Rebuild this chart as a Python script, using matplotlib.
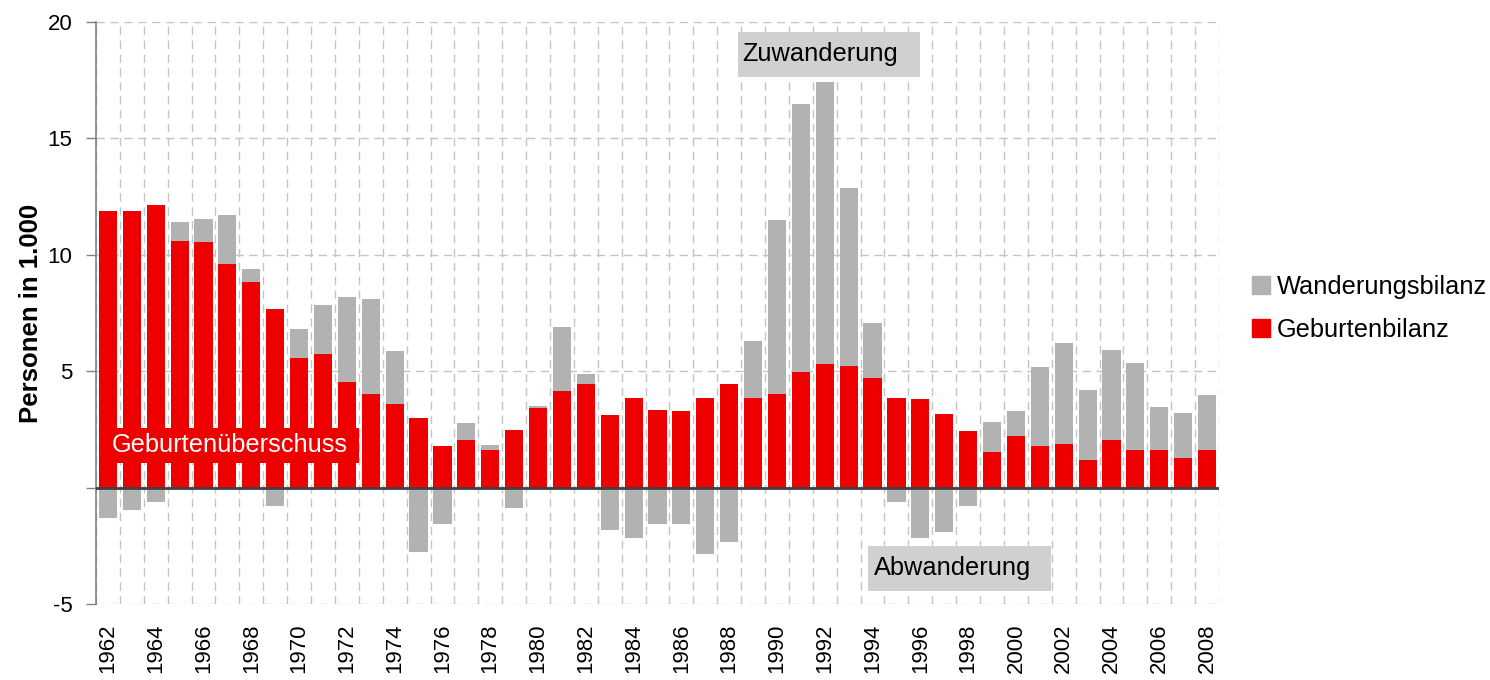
import numpy as np
import matplotlib
matplotlib.use("Agg")
import matplotlib.pyplot as plt
from matplotlib.patches import Rectangle
from matplotlib.lines import Line2D

plt.rcParams['font.family'] = ['Liberation Sans', 'DejaVu Sans']

years = list(range(1962, 2009))
geburtenbilanz = [11.86, 11.86, 12.12, 10.61, 10.53, 9.59, 8.82, 7.66, 5.56, 5.73,
                  4.53, 4.02, 3.58, 2.97, 1.77, 2.03, 1.60, 2.46, 3.40, 4.17,
                  4.43, 3.10, 3.83, 3.32, 3.27, 3.83, 4.47, 3.83, 4.00, 4.95,
                  5.29, 5.21, 4.69, 3.83, 3.79, 3.15, 2.42, 1.52, 2.20, 1.77,
                  1.86, 1.17, 2.03, 1.60, 1.60, 1.26, 1.60]
wanderungsbilanz = [-1.32, -0.97, -0.63, 0.78, 0.99, 2.14, 0.55, -0.79, 1.24, 2.10,
                    3.64, 4.07, 2.28, -2.76, -1.56, 0.73, 0.22, -0.87, 0.09, 2.71,
                    0.43, -1.82, -2.16, -1.56, -1.56, -2.85, -2.33, 2.45, 7.51, 11.53,
                    12.14, 7.68, 2.36, -0.62, -2.16, -1.90, -0.79, 1.28, 1.08, 3.40,
                    4.34, 3.01, 3.87, 3.74, 1.85, 1.93, 2.37]
y_ticks = [-5, 0, 5, 10, 15, 20]
y_ticklabels = ['-5', '', '5', '10', '15', '20']

RED = '#EE0000'
GRAY = '#B2B2B2'
BOXGRAY = '#D0D0D0'
GRID = '#C4C4C4'

fig = plt.figure(figsize=(14.9, 6.8), dpi=100)
ax = fig.add_axes([96/1490, 1-604/680, 1123/1490, 582/680])

x = np.arange(len(years))
geb = np.array(geburtenbilanz)
wan = np.array(wanderungsbilanz)
bottoms = np.where(wan > 0, geb, 0.0)
w = 0.76

ax.bar(x, wan, bottom=bottoms, width=w, color=GRAY, zorder=3, linewidth=0)
ax.bar(x, geb, width=w, color=RED, zorder=3, linewidth=0)

ax.set_xlim(-0.5, len(years) - 0.5)
ax.set_ylim(-5, 20)
ax.set_yticks(y_ticks)
ax.set_yticklabels(y_ticklabels, fontsize=16)

ax.set_xticks(x[::2])
ax.set_xticklabels([str(y) for y in years[::2]], rotation=90, fontsize=16)
ax.set_xticks(np.arange(-0.5, len(years), 1.0), minor=True)
ax.tick_params(axis='x', which='both', length=0, pad=14)
ax.tick_params(axis='y', which='major', length=7, width=1, color='#808080', direction='out', pad=10)

dash = (0, (6, 4))
ax.grid(axis='y', which='major', color=GRID, linestyle=dash, linewidth=1, zorder=0)
ax.grid(axis='x', which='minor', color=GRID, linestyle=dash, linewidth=1, zorder=0)
ax.grid(axis='x', which='major', visible=False)
ax.set_axisbelow(True)

for s in ['top', 'right', 'bottom']:
    ax.spines[s].set_visible(False)
ax.spines['left'].set_color('#808080')
ax.spines['left'].set_linewidth(1.2)

ax.axhline(0, color='#404040', linewidth=2, zorder=4)

ax.set_ylabel('Personen in 1.000', fontsize=18.5, fontweight='bold', labelpad=3.5)

def box(x0, x1, y0, y1, color, text, tcolor, tx):
    ax.add_patch(Rectangle((x0, y0), x1 - x0, y1 - y0, transform=ax.transAxes,
                           facecolor=color, edgecolor='none', zorder=5, clip_on=False))
    ax.text(tx, (y0 + y1) / 2, text, transform=ax.transAxes, color=tcolor,
            fontsize=18.3, va='center', ha='left', zorder=6)

def fx(px):
    return (px - 96) / 1123
def fy(py):
    return (604 - py) / 582

box(fx(738), fx(920), fy(77), fy(32), BOXGRAY, 'Zuwanderung', 'black', fx(742))
box(fx(868), fx(1051), fy(591), fy(546), BOXGRAY, 'Abwanderung', 'black', fx(874))
box(fx(100), fx(359), fy(463), fy(428), RED, 'Geburtenüberschuss', 'white', fx(112))

handles = [Line2D([], [], marker='s', linestyle='', color=GRAY, markersize=13),
           Line2D([], [], marker='s', linestyle='', color=RED, markersize=13)]
fig.legend(handles, ['Wanderungsbilanz', 'Geburtenbilanz'],
           loc='upper left', bbox_to_anchor=(1246/1490, 1-275/680),
           frameon=False, fontsize=18.3, handletextpad=0.0, labelspacing=0.76,
           borderpad=0, borderaxespad=0, handlelength=1.2)

fig.savefig('out.png', dpi=100)
